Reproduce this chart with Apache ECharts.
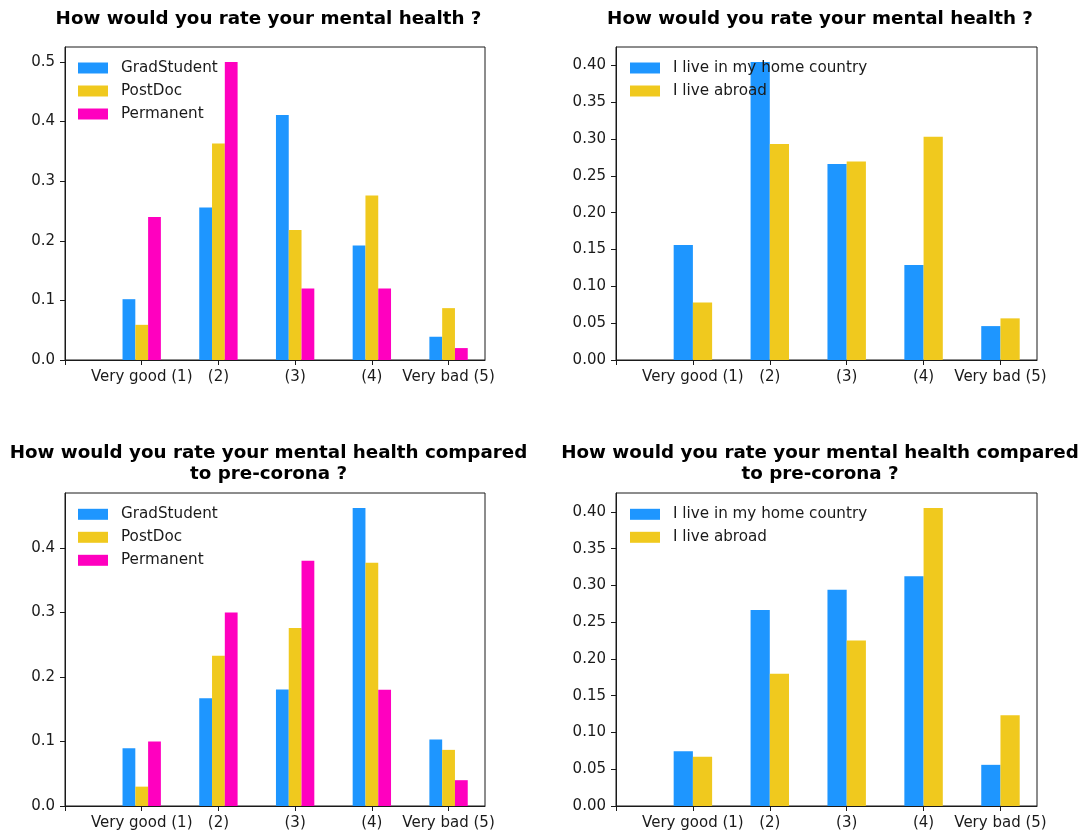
<!DOCTYPE html>
<html><head><meta charset="utf-8">
<script src="https://cdn.jsdelivr.net/npm/echarts@6/dist/echarts.min.js"></script>
<style>html,body{margin:0;padding:0;background:#fff}#c{width:1083px;height:834px}</style>
</head><body><div id="c"></div>
<script>
// ---- data ----
const categories = ['', 'Very good (1)', '(2)', '(3)', '(4)', 'Very bad (5)'];
const xTicks = [0, 1, 2, 3, 4, 5];
const positionGroups = ['GradStudent', 'PostDoc', 'Permanent'];
const residenceGroups = ['I live in my home country', 'I live abroad'];

const titleNow = 'How would you rate your mental health ?';
const titlePre = 'How would you rate your mental health compared\nto pre-corona ?';

// current mental health, by position
const nowGrad      = [0.102, 0.256, 0.411, 0.192, 0.039];
const nowPostDoc   = [0.059, 0.363, 0.218, 0.276, 0.087];
const nowPermanent = [0.240, 0.500, 0.120, 0.120, 0.020];
// current mental health, by residence
const nowHome      = [0.156, 0.4045, 0.266, 0.129, 0.046];
const nowAbroad    = [0.078, 0.293, 0.2695, 0.303, 0.0565];
// compared to pre-corona, by position
const preGrad      = [0.0895, 0.167, 0.1805, 0.462, 0.103];
const prePostDoc   = [0.030, 0.233, 0.276, 0.377, 0.087];
const prePermanent = [0.100, 0.300, 0.380, 0.180, 0.040];
// compared to pre-corona, by residence
const preHome      = [0.0745, 0.2665, 0.294, 0.3125, 0.056];
const preAbroad    = [0.067, 0.180, 0.225, 0.4055, 0.1235];

const yTicks1  = [0, 0.1, 0.2, 0.3, 0.4, 0.5];
const yTicks05 = [0, 0.05, 0.10, 0.15, 0.20, 0.25, 0.30, 0.35, 0.40];
const yTicks4  = [0, 0.1, 0.2, 0.3, 0.4];

const colors = { blue: '#1E96FF', yellow: '#F0C91E', magenta: '#FF00BF' };

// ---- chart ----
const FONT = 'DejaVu Sans';
const INK = '#1a1a1a';
const xMax = 5 + 0.25 + 0.05 * (5.25 - 0.75);

const panels = [
  { grid: { left: 65, top: 47, width: 420, height: 313 }, title: titleNow, titleTop: 9,
    names: positionGroups, values: [nowGrad, nowPostDoc, nowPermanent], cols: [colors.blue, colors.yellow, colors.magenta],
    ticks: yTicks1, dec: 1, legendTop: 60.5, legendLeft: 78 },
  { grid: { left: 616, top: 47, width: 421, height: 313 }, title: titleNow, titleTop: 9,
    names: residenceGroups, values: [nowHome, nowAbroad], cols: [colors.blue, colors.yellow],
    ticks: yTicks05, dec: 2, legendTop: 60.5, legendLeft: 630 },
  { grid: { left: 65, top: 493, width: 420, height: 313 }, title: titlePre, titleTop: 443,
    names: positionGroups, values: [preGrad, prePostDoc, prePermanent], cols: [colors.blue, colors.yellow, colors.magenta],
    ticks: yTicks4, dec: 1, legendTop: 506.8, legendLeft: 78 },
  { grid: { left: 616, top: 493, width: 421, height: 313 }, title: titlePre, titleTop: 443,
    names: residenceGroups, values: [preHome, preAbroad], cols: [colors.blue, colors.yellow],
    ticks: yTicks05, dec: 2, legendTop: 506.8, legendLeft: 630 }
];

const option = { animation: false, backgroundColor: '#fff', grid: [], xAxis: [], yAxis: [], series: [], title: [], legend: [] };

panels.forEach((p, gi) => {
  option.grid.push(Object.assign({ show: true, borderColor: INK, borderWidth: 1, backgroundColor: 'transparent' }, p.grid));
  const allVals = [].concat(...p.values);
  const yMax = Math.max(...allVals) * 1.05;
  option.xAxis.push({
    type: 'value', gridIndex: gi, min: 0, max: xMax, z: 5,
    axisLine: { show: true, onZero: false, lineStyle: { color: INK, width: 1 } },
    axisTick: { show: true, customValues: xTicks, length: 5, lineStyle: { color: INK, width: 1 } },
    axisLabel: { customValues: xTicks, formatter: v => categories[Math.round(v)] || '', fontSize: 15, fontFamily: FONT, color: INK, margin: 10 },
    splitLine: { show: false }
  });
  option.yAxis.push({
    type: 'value', gridIndex: gi, min: 0, max: yMax, z: 5,
    axisLine: { show: true, onZero: false, lineStyle: { color: INK, width: 1 } },
    axisTick: { show: true, customValues: p.ticks, length: 5, lineStyle: { color: INK, width: 1 } },
    axisLabel: { customValues: p.ticks, formatter: v => v.toFixed(p.dec), fontSize: 15, fontFamily: FONT, color: INK, margin: 10 },
    splitLine: { show: false }
  });
  const n = p.values.length;
  const w = 0.5 / n;
  p.values.forEach((vals, k) => {
    const off = (k - (n - 1) / 2) * w;
    option.series.push({
      type: 'custom', name: p.names[k], xAxisIndex: gi, yAxisIndex: gi, z: 2,
      itemStyle: { color: p.cols[k] },
      encode: { x: 0, y: 1 },
      data: vals.map((v, i) => [i + 1 + off, v]),
      renderItem: (params, api) => {
        const x = api.value(0), y = api.value(1);
        const a = api.coord([x - w / 2, y]);
        const b = api.coord([x + w / 2, 0]);
        return { type: 'rect', shape: { x: a[0], y: a[1], width: b[0] - a[0], height: b[1] - a[1] },
                 style: { fill: api.visual('color') } };
      }
    });
  });
  option.title.push({
    text: p.title, left: p.grid.left + p.grid.width / 2 - 6.5, top: p.titleTop, textAlign: 'center', padding: 0,
    textStyle: { fontFamily: FONT, fontSize: 18.3, fontWeight: 'bold', color: '#000', lineHeight: 21 }
  });
  option.legend.push({
    data: p.names, orient: 'vertical', left: p.legendLeft, top: p.legendTop, padding: 0,
    icon: 'rect', itemWidth: 30, itemHeight: 11, itemGap: 8,
    textStyle: { fontFamily: FONT, fontSize: 15.2, lineHeight: 15, color: INK, padding: [0, 0, 0, 8] }
  });
});

const chart = echarts.init(document.getElementById('c'), null, { renderer: 'canvas' });
chart.setOption(option);
</script>
</body></html>
